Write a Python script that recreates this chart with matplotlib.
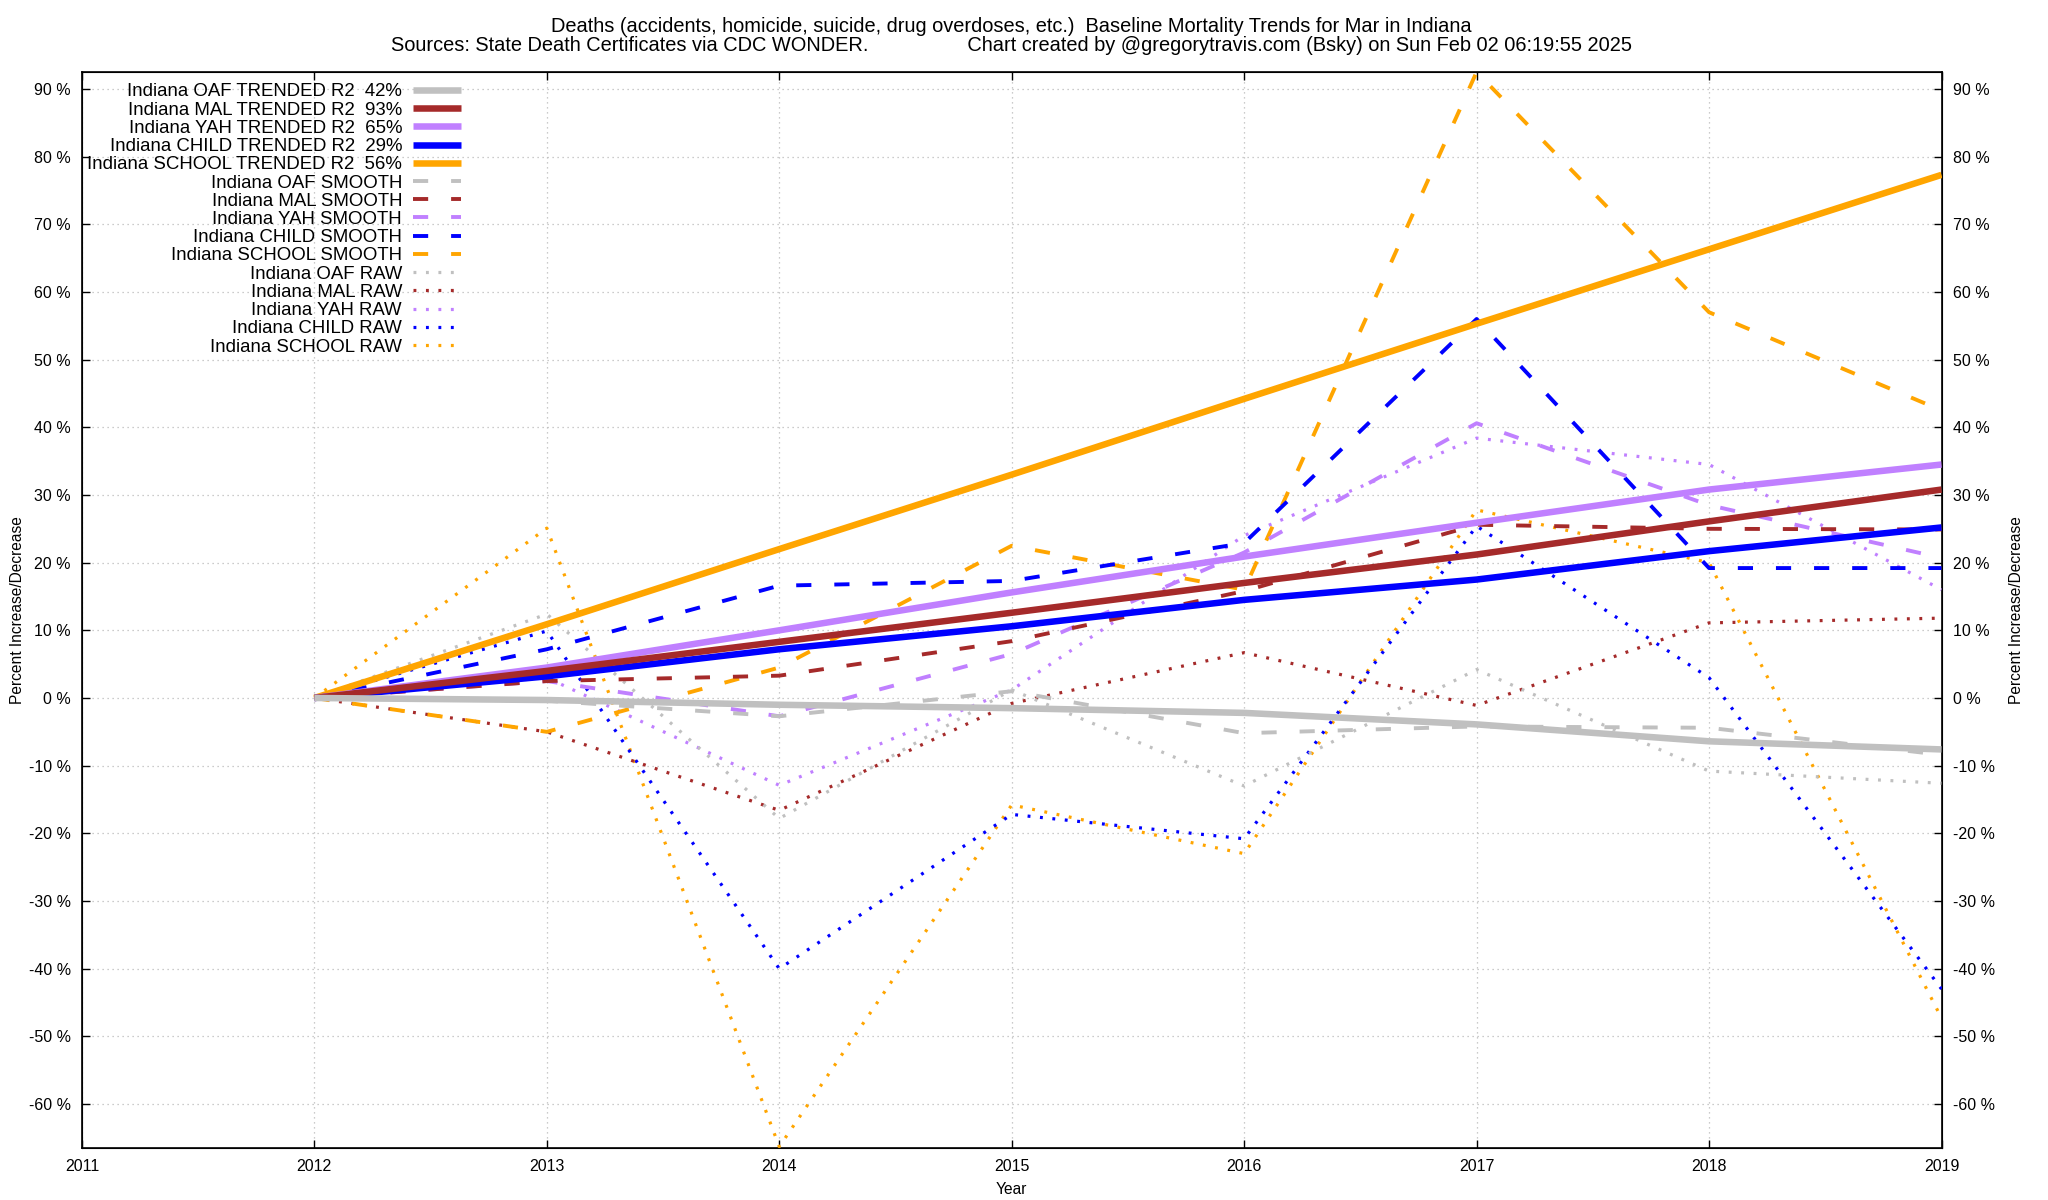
import matplotlib
matplotlib.use("Agg")
import matplotlib.pyplot as plt
from matplotlib.ticker import MultipleLocator, FuncFormatter

plt.rcParams["font.family"] = ["Liberation Sans", "DejaVu Sans"]

years = [2012, 2013, 2014, 2015, 2016, 2017, 2018, 2019]

# trended fits
oaf_trend = [0, -0.3, -1.0, -1.5, -2.2, -3.9, -6.4, -7.6]
mal_trend = [0, 4.0, 8.3, 12.6, 17.0, 21.2, 26.1, 30.8]
yah_trend = [0, 4.5, 10.0, 15.6, 20.9, 25.9, 30.8, 34.5]
child_trend = [0, 3.2, 7.2, 10.6, 14.5, 17.5, 21.7, 25.2]
school_trend = [0, 10.9, 22.0, 33.0, 44.2, 55.3, 66.3, 77.3]

# smoothed
oaf_smooth = [0, -0.4, -2.7, 1.0, -5.2, -4.2, -4.4, -8.4]
mal_smooth = [0, 2.5, 3.3, 8.4, 15.8, 25.6, 25.0, 24.9]
yah_smooth = [0, 2.5, -2.7, 6.5, 21.5, 40.6, 28.5, 20.7]
child_smooth = [0, 7.2, 16.6, 17.3, 22.9, 56.0, 19.2, 19.2]
school_smooth = [0, -5.0, 4.5, 22.5, 16.0, 92.5, 57.0, 42.5]

# raw
oaf_raw = [0, 12.4, -17.8, 1.2, -13.0, 4.2, -10.8, -12.6]
mal_raw = [0, -5.0, -16.6, -0.8, 6.7, -1.1, 11.1, 11.8]
yah_raw = [0, 3.0, -12.9, 1.2, 24.0, 38.4, 34.5, 16.0]
child_raw = [0, 9.9, -40.0, -17.2, -20.8, 25.4, 3.0, -43.0]
school_raw = [0, 25.1, -66.3, -15.8, -23.0, 27.8, 20.0, -47.3]

groups = ["OAF", "MAL", "YAH", "CHILD", "SCHOOL"]
r2 = ["42%", "93%", "65%", "29%", "56%"]
colors = ["#c0c0c0", "#a52a2a", "#c080ff", "#0000ff", "#ffa500"]
trends = [oaf_trend, mal_trend, yah_trend, child_trend, school_trend]
smooths = [oaf_smooth, mal_smooth, yah_smooth, child_smooth, school_smooth]
raws = [oaf_raw, mal_raw, yah_raw, child_raw, school_raw]

fig = plt.figure(figsize=(20.48, 12), dpi=100)
ax = fig.add_axes([0.040, 0.0433, 0.908, 0.8967])

handles = []
for i, (g, r, c, t) in enumerate(zip(groups, r2, colors, trends)):
    h, = ax.plot(years, t, color=c, lw=4.7, solid_capstyle="butt",
                 zorder=30 - i, label=f"Indiana {g} TRENDED R2  {r}")
    handles.append(h)
for i, (g, c, s) in enumerate(zip(groups, colors, smooths)):
    h, = ax.plot(years, s, color=c, lw=2.8, linestyle=(0, (3.9, 5.9)),
                 zorder=20 - i, label=f"Indiana {g} SMOOTH")
    handles.append(h)
for i, (g, c, s) in enumerate(zip(groups, colors, raws)):
    h, = ax.plot(years, s, color=c, lw=2.3, linestyle=(0, (0.9, 3.0)),
                 zorder=10 - i, label=f"Indiana {g} RAW")
    handles.append(h)

allvals = trends + smooths + raws
ymin = min(min(v) for v in allvals)
ymax = max(max(v) for v in allvals)
ax.set_xlim(2011, 2019)
ax.set_ylim(ymin - 0.2, ymax)

pct = FuncFormatter(lambda v, p: f"{v:.0f} %")
ax.yaxis.set_major_locator(MultipleLocator(10))
ax.yaxis.set_major_formatter(pct)
ax.xaxis.set_major_locator(MultipleLocator(1))
ax.grid(True, color="#bbbbbb", lw=0.9, linestyle=(0, (1, 3)))
ax.tick_params(direction="in", length=6, width=1, labelsize=11.5,
               top=True, right=False, pad=8)
for sp in ax.spines.values():
    sp.set_linewidth(1.2)

ax2 = ax.twinx()
ax2.set_ylim(ax.get_ylim())
ax2.yaxis.set_major_locator(MultipleLocator(10))
ax2.yaxis.set_major_formatter(pct)
ax2.tick_params(direction="in", length=6, width=1, labelsize=11.5, pad=8)
ax2.set_ylabel("Percent Increase/Decrease", fontsize=11.2, labelpad=10)

ax.set_xlabel("Year", fontsize=11.2, labelpad=6)
ax.set_ylabel("Percent Increase/Decrease", fontsize=11.2, labelpad=3)

leg = ax.legend(handles=handles, loc="upper right", bbox_to_anchor=(0.204, 0.9895),
                markerfirst=False, frameon=False, fontsize=13.4,
                borderpad=0, borderaxespad=0, labelspacing=0.065,
                handlelength=2.58, handletextpad=0.6)
leg.set_zorder(40)

cx = 0.040 + 0.908 / 2
fig.text(cx, 1 - 31.5 / 1200, "Deaths (accidents, homicide, suicide, drug overdoses, etc.)  "
         "Baseline Mortality Trends for Mar in Indiana",
         ha="center", va="baseline", fontsize=14.4)
fig.text(cx, 1 - 51 / 1200, "Sources: State Death Certificates via CDC WONDER."
         + " " * 18 + "Chart created by @gregorytravis.com (Bsky) on Sun Feb 02 06:19:55 2025",
         ha="center", va="baseline", fontsize=14.4)

fig.savefig("out.png", dpi=100)
